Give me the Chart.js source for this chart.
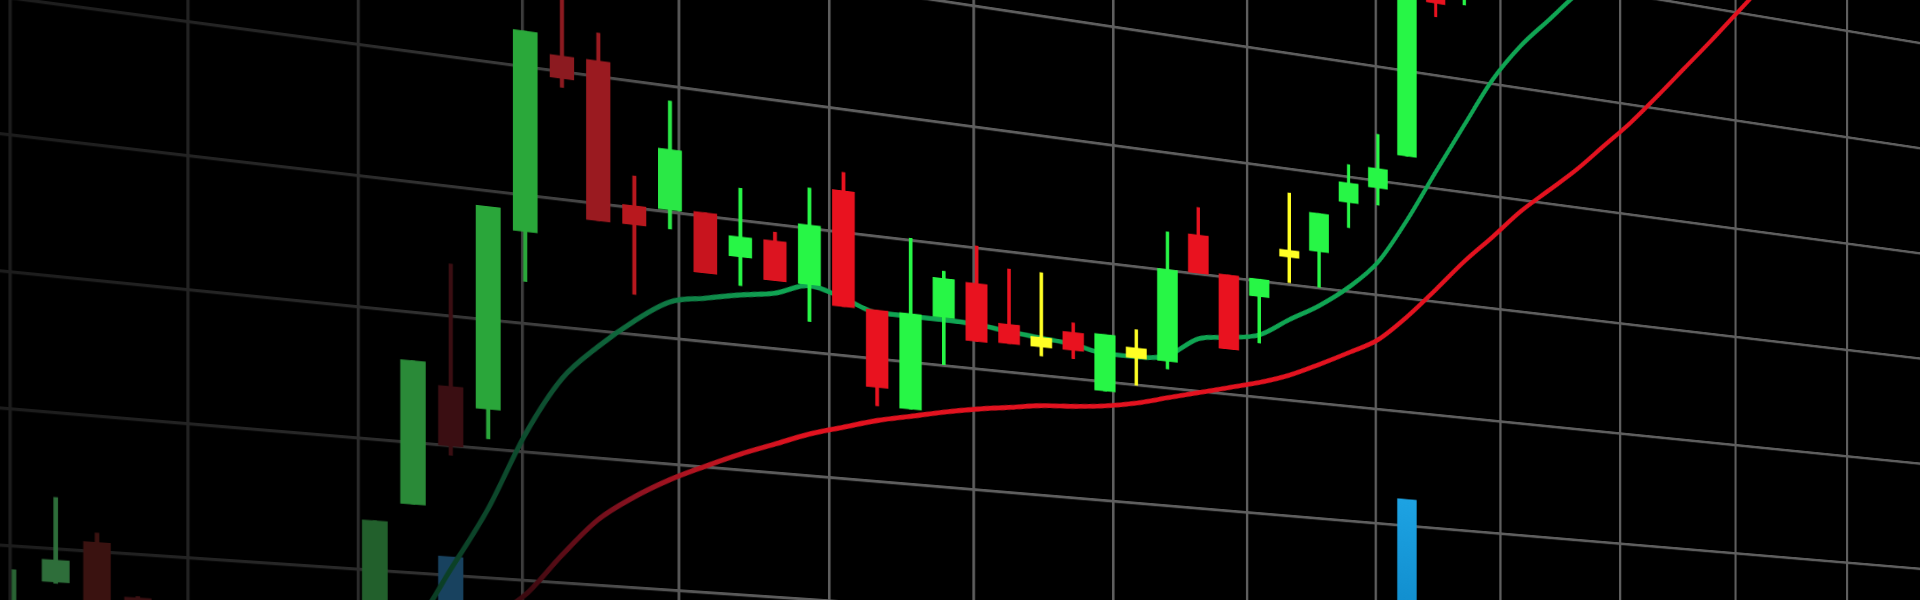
<!DOCTYPE html>
<html><head><meta charset="utf-8">
<script src="https://cdn.jsdelivr.net/npm/chart.js@4.4.0/dist/chart.umd.min.js"></script>
<style>
html,body{margin:0;padding:0;background:#000;width:1920px;height:600px;overflow:hidden}
#wrap{position:absolute;left:0;top:0;width:1920px;height:600px;overflow:hidden;background:#000}
#c{position:absolute;left:0;top:0;transform-origin:0 0}
</style></head><body>
<div id="wrap"><canvas id="c" width="2732" height="1096"></canvas></div>
<script>
// ---- data (candle index = position in arrays) ----
const opens  = [63.0,67.6,70.7,66.8,62.5,61.0,63.0,64.5,62.5,65.0,75.3,84.6,83.1,97.2,111.25,111.25,100.2,100.2,100.3,97.1,98.7,95.5,103.4,94.0,86.2,94.0,97.1,94.0,93.2,93.9,89.25,93.15,92.3,103.35,100.25,98.7,103.0,103.2,107.8,109.4,112.55,130.0,128.0];
const highs  = [68.3,73.8,71.4,66.9,64.0,63.5,65.0,65.5,66.0,73.8,86.3,94.05,98.8,112.8,118.0,113.45,102.55,108.85,100.3,102.6,99.4,103.3,104.9,94.0,100.2,97.8,100.2,98.6,98.6,94.7,94.0,94.7,103.3,105.7,100.25,100.2,107.95,106.5,111.1,114.1,132.0,131.5,133.0];
const lows   = [62.0,67.5,63.0,61.0,60.5,60.0,62.0,61.5,62.0,64.5,75.3,79.3,80.8,93.3,108.8,98.7,93.2,98.7,95.5,94.8,95.5,92.5,94.0,86.2,86.2,90.1,92.3,92.4,91.65,91.7,89.25,90.0,91.65,100.1,93.9,94.7,100.2,100.1,105.6,107.9,112.55,125.2,126.65];
const closes = [65.5,69.2,64.0,62.0,61.0,63.0,64.5,62.5,65.5,73.8,86.3,80.0,98.8,112.8,109.5,98.7,98.7,105.0,95.5,98.7,95.5,100.3,94.0,87.7,94.0,97.2,92.3,92.4,92.4,92.4,94.0,92.3,100.1,100.1,93.9,100.2,102.4,106.5,109.5,111.1,131.0,126.4,132.0];
const volumes = [null,null,null,null,null,null,null,null,null,null,null,114.5,null,null,null,null,null,null,null,null,null,null,null,null,null,null,null,null,null,null,null,null,null,null,null,null,null,null,null,null,223.5,null,null];
const maFast = [null,null,null,null,null,null,null,null,null,63.9,65.8,70.5,75.4,81.4,86.0,88.8,91.1,92.9,93.5,94.05,94.5,95.4,94.7,93.8,93.8,93.8,93.7,93.4,93.15,92.9,92.4,92.4,92.8,94.5,94.9,95.4,97.0,98.5,100.4,102.9,106.9,111.5,116.0,120.4,123.8,126.5,129.2,131.5];
const maSlow = [null,null,null,null,null,null,null,null,null,null,null,64.7,66.8,68.9,72.2,75.2,77.2,78.8,80.1,81.3,82.35,83.4,84.2,85.0,85.6,86.2,86.7,87.1,87.5,87.7,88.0,88.5,89.2,89.9,90.6,91.3,92.2,93.4,94.7,96.1,98.4,101.1,103.9,106.4,109.0,111.2,113.4,115.9,118.4,121.2,124.1,127.0,130.0,133.0];
const priceTicks = [60,70,80,90,100,110,120,130,140];

// ---- layout constants ----
const W = 2732, H = 1096;
const xMin = -2.25, xMax = 62.75;
const gridStart = -0.0954, gridStep = 4.3365;
const volMax = 800;
// perspective (homography) of the chart plane on screen
const A = 182.27, C = 10, G = 0.022176, D = 24.31, F = 135.2;
const pTop = priceTicks[priceTicks.length-1], pBot = priceTicks[0];
const pxPerK = W / (xMax - xMin);
const u0 = (gridStart - xMin) * pxPerK;
const v0 = (pTop - 100) * (H / (pTop - pBot));
const gp = G / A, dp = D / A;
const cv = document.getElementById('c');
cv.style.transform = `matrix3d(1,${dp},0,${gp}, 0,1,0,0, 0,0,1,0, ${C - u0},${F - v0 - dp*u0},0,${1 - gp*u0})`;
const uOfK = k => (k - xMin) * pxPerK;

// ---- styles ----
const GREEN = '#27f646', RED = '#e9121f', YELLOW = '#ffff24';
// the far (left) part of the scene is in shadow
const shade = {0:'#2a6434',1:'#2e6e3a',2:'#3a1210',3:'#3a1012',9:'#22602c',10:'#2a8a38',11:'#3a0e12',12:'#2aa63a',13:'#2aa83a',
               14:'#8c1a20',15:'#9a1a20',16:'#b8181e',17:'#2ae846',18:'#c8141e',20:'#dc1420'};
const colors = opens.map((o, i) => {
  if (shade[i]) return shade[i];
  const d = closes[i] - o;
  return d >= 1 ? GREEN : (d <= -1 ? RED : YELLOW);
});
const vGridShade = ['#1c1c1c','#222222','#2b2b2b','#3c3c3c','#565656'];
const gridColor = '#5e5e5e';

const ctx2d = cv.getContext('2d');
function hGrad(stops) {
  const g = ctx2d.createLinearGradient(0, 0, W, 0);
  stops.forEach(([k, c]) => g.addColorStop(Math.min(1, Math.max(0, uOfK(k) / W)), c));
  return g;
}
const hGridGrad = hGrad([[-0.1,'#1c1c1c'],[8.6,'#2a2a2a'],[12.9,'#3c3c3c'],[17.2,'#565656'],[21.6,gridColor]]);
const fastGrad = hGrad([[10,'#0a3a22'],[14,'#0e5232'],[17,'#0f7a44'],[20,'#10a553']]);
const slowGrad = hGrad([[13,'#3c0a10'],[14,'#5a0c16'],[16,'#8a1220'],[18,'#b81420'],[21,'#e3121f']]);
const volGrad = ctx2d.createLinearGradient(0, H * (1 - 230 / volMax), 0, H);
volGrad.addColorStop(0, '#1ea4e4'); volGrad.addColorStop(1, '#0072b2');
const volColors = volumes.map((v, i) => i < 20 ? '#18425f' : volGrad);

const toPts = arr => arr.map((v, i) => v == null ? null : {x: i, y: v}).filter(Boolean);
const bodies = opens.map((o, i) => ({x: i, y: [o, closes[i]]}));
const wicks = lows.map((l, i) => ({x: i, y: [l, highs[i]]}));

new Chart(ctx2d, {
  type: 'bar',
  data: { datasets: [
    { type:'bar', data: bodies, backgroundColor: colors, borderWidth: 0, barThickness: 27.5, grouped: false, order: 0, yAxisID: 'y' },
    { type:'bar', data: wicks, backgroundColor: colors, borderWidth: 0, barThickness: 4.0, grouped: false, order: 1, yAxisID: 'y' },
    { type:'line', data: toPts(maFast), borderColor: fastGrad, borderWidth: 5.4, pointRadius: 0, cubicInterpolationMode: 'monotone', order: 2, yAxisID: 'y' },
    { type:'line', data: toPts(maSlow), borderColor: slowGrad, borderWidth: 5.4, pointRadius: 0, cubicInterpolationMode: 'monotone', order: 3, yAxisID: 'y' },
    { type:'bar', data: volumes.map((v, i) => ({x: i, y: v})), borderWidth: 0, barThickness: 27.5, grouped: false, order: 4, yAxisID: 'yv', backgroundColor: volColors }
  ]},
  options: {
    responsive: false, animation: false, devicePixelRatio: 1, events: [],
    layout: { padding: 0 },
    plugins: { legend: { display: false }, tooltip: { enabled: false } },
    scales: {
      x: { type: 'linear', min: xMin, max: xMax, offset: false,
           grid: { color: (c) => vGridShade[c.index] || gridColor, lineWidth: 3.4, drawTicks: false, offset: false },
           border: { display: false }, ticks: { display: false },
           afterBuildTicks: (axis) => {
             const t = [];
             for (let v = gridStart; v <= xMax; v += gridStep) t.push({value: v});
             axis.ticks = t;
           } },
      y: { type: 'linear', min: pBot, max: pTop,
           grid: { color: hGridGrad, lineWidth: 3.2, drawTicks: false },
           border: { display: false }, ticks: { display: false, stepSize: 10 },
           afterBuildTicks: (axis) => { axis.ticks = priceTicks.map(v => ({value: v})); } },
      yv: { type: 'linear', display: false, min: 0, max: volMax }
    }
  }
});
</script>
</body></html>
